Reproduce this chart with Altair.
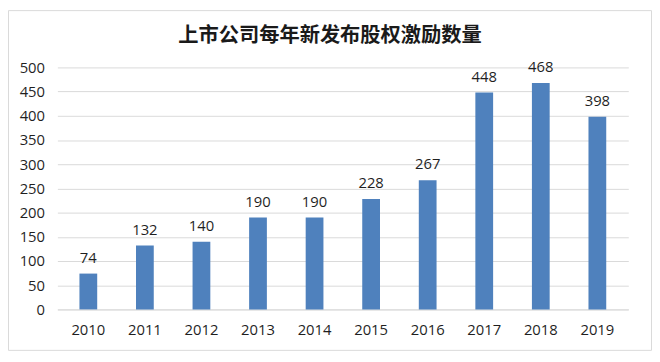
import altair as alt
import pandas as pd

years = ["2010", "2011", "2012", "2013", "2014", "2015", "2016", "2017", "2018", "2019"]
counts = [74, 132, 140, 190, 190, 228, 267, 448, 468, 398]
title_text = "上市公司每年新发布股权激励数量"

df = pd.DataFrame({"year": years, "count": counts})

W, H = 578, 245
PAD_L, PAD_T, PAD_R, PAD_B = 50, 58, 24, 42
FS = 15
TXT = "#1f1f1f"

base = alt.Chart(df)

x = alt.X("year:N", sort=years, title=None,
          scale=alt.Scale(paddingInner=0.686, paddingOuter=0.39),
          axis=alt.Axis(labelAngle=0, ticks=False, domain=True, domainColor="#D9D9D9",
                        labelPadding=13, labelFontSize=FS, labelColor=TXT,
                        labelFont="Open Sans", grid=False))
y = alt.Y("count:Q", title=None,
          scale=alt.Scale(domain=[0, 500], nice=False),
          axis=alt.Axis(values=list(range(0, 501, 50)), ticks=False, domain=False,
                        labelOverlap=False,
                        gridColor="#D9D9D9", labelPadding=13, labelFontSize=FS,
                        labelColor=TXT, labelFont="Open Sans"))

bars = base.mark_bar(color="#4F81BD").encode(x=x, y=y)
labels = base.mark_text(dy=-16, fontSize=FS, font="Open Sans", color=TXT).encode(
    x=x, y=y, text="count:Q")

frame = alt.Chart(pd.DataFrame({"a": [0]})).mark_rect(
    filled=False, stroke="#D9D9D9", strokeWidth=1, clip=False).encode(
    x=alt.value(-PAD_L + 0.5), x2=alt.value(W + PAD_R - 0.5),
    y=alt.value(-PAD_T + 0.5), y2=alt.value(H + PAD_B - 0.5))

title = alt.Chart(pd.DataFrame({"t": [title_text]})).mark_text(
    fontSize=20.5, font="Noto Sans CJK SC", fontWeight="bold", color="#1a1a1a",
    baseline="middle").encode(
    text="t:N", x=alt.value(W / 2 - 13), y=alt.value(-32))

chart = alt.layer(bars, labels, frame, title).properties(
    width=W, height=H,
    autosize=alt.AutoSizeParams(type="none"),
    padding={"left": PAD_L, "top": PAD_T, "right": PAD_R, "bottom": PAD_B},
    background="white",
).configure_view(strokeWidth=0, stroke="transparent")

chart.save("out.html", embed_options={"renderer": "svg", "actions": False})
